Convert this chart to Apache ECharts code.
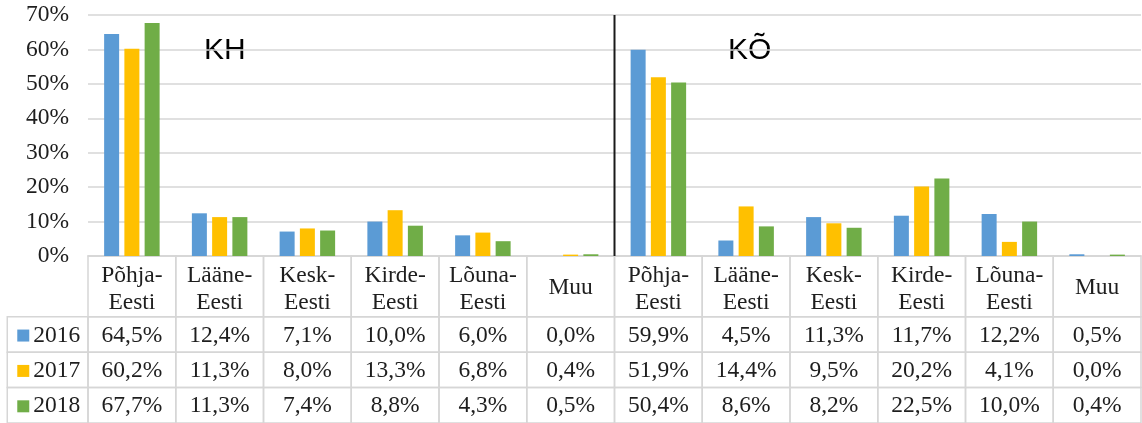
<!DOCTYPE html>
<html>
<head>
<meta charset="utf-8">
<script src="https://cdn.jsdelivr.net/npm/echarts@6/dist/echarts.min.js"></script>
<style>
  html, body { margin: 0; padding: 0; background: #fff; }
  #chart { width: 1142px; height: 423px; }
</style>
</head>
<body>
<div id="chart"></div>
<script>
// regions (x categories), two blocks of six: KH and KÕ
var regions = ["Põhja-\nEesti", "Lääne-\nEesti", "Kesk-\nEesti", "Kirde-\nEesti", "Lõuna-\nEesti", "Muu",
               "Põhja-\nEesti", "Lääne-\nEesti", "Kesk-\nEesti", "Kirde-\nEesti", "Lõuna-\nEesti", "Muu"];
var years = ["2016", "2017", "2018"];
var v2016 = [64.5, 12.4, 7.1, 10.0, 6.0, 0.0, 59.9, 4.5, 11.3, 11.7, 12.2, 0.5];
var v2017 = [60.2, 11.3, 8.0, 13.3, 6.8, 0.4, 51.9, 14.4, 9.5, 20.2, 4.1, 0.0];
var v2018 = [67.7, 11.3, 7.4, 8.8, 4.3, 0.5, 50.4, 8.6, 8.2, 22.5, 10.0, 0.4];
var groupLabels = ["KH", "KÕ"];
var yTicks = [0, 10, 20, 30, 40, 50, 60, 70];

var colors = ["#5B9BD5", "#FFC000", "#70AD47"];
var values = [v2016, v2017, v2018];
var serif = '"Liberation Serif", "Times New Roman", serif';
var gridColor = "#d6d6d6";
var textColor = "#1e1e1e";

// table layout in table-axis units (1 = one data row, 1 = one column)
var HEADER_H = 1.72;
var LEGEND_X = -0.92;

function fmt(v) {
  return v.toFixed(1).replace(".", ",") + "%";
}

// build table cells
var cells = [];
regions.forEach(function (r, i) {
  cells.push({ value: [i, 0, i + 1, HEADER_H], text: r });
});
years.forEach(function (y, j) {
  cells.push({ value: [LEGEND_X, HEADER_H + j, 0, HEADER_H + j + 1], text: y, swatch: colors[j] });
  values[j].forEach(function (v, i) {
    cells.push({ value: [i, HEADER_H + j, i + 1, HEADER_H + j + 1], text: fmt(v) });
  });
});

function renderCell(params, api) {
  var c = cells[params.dataIndex];
  var p0 = api.coord([api.value(0), api.value(1)]);
  var p1 = api.coord([api.value(2), api.value(3)]);
  var children = [{
    type: "rect",
    shape: { x: p0[0], y: p0[1], width: p1[0] - p0[0], height: p1[1] - p0[1] },
    style: { fill: null, stroke: gridColor, lineWidth: 1.5 }
  }];
  var cy = (p0[1] + p1[1]) / 2 + 1;
  if (c.swatch) {
    children.push({
      type: "rect",
      shape: { x: p0[0] + 10, y: cy - 6, width: 12, height: 12 },
      style: { fill: c.swatch }
    });
    children.push({
      type: "text",
      style: { text: c.text, x: p0[0] + 26, y: cy, align: "left", verticalAlign: "middle",
               fontFamily: serif, fontSize: 23.5, fill: textColor }
    });
  } else {
    children.push({
      type: "text",
      style: { text: c.text, x: (p0[0] + p1[0]) / 2, y: cy + (c.text.indexOf("\n") > 0 ? 2 : 0),
               align: "center", verticalAlign: "middle",
               fontFamily: serif, fontSize: 23.5, lineHeight: 27, fill: textColor }
    });
  }
  return { type: "group", children: children };
}

var myChart = echarts.init(document.getElementById("chart"));
var option = {
  animation: false,
  grid: [
    { left: 88, right: 1, top: 15, height: 241 },
    { left: 88, right: 1, top: 256, height: 168 }
  ],
  xAxis: [
    {
      type: "category", gridIndex: 0, data: regions,
      axisLine: { lineStyle: { color: gridColor, width: 1.5 } },
      axisTick: { show: false }, axisLabel: { show: false }
    },
    { type: "value", gridIndex: 0, min: 0, max: regions.length, show: false },
    { type: "value", gridIndex: 1, min: 0, max: regions.length, show: false }
  ],
  yAxis: [
    {
      type: "value", gridIndex: 0, min: yTicks[0], max: yTicks[yTicks.length - 1], interval: 10,
      axisLine: { show: false }, axisTick: { show: false },
      axisLabel: { formatter: "{value}%", fontFamily: serif, fontSize: 23.5, color: textColor, margin: 19 },
      splitLine: { lineStyle: { color: gridColor, width: 1.5 } }
    },
    { type: "value", gridIndex: 1, min: 0, max: HEADER_H + years.length, inverse: true, show: false }
  ],
  graphic: [
    { type: "text", left: 204, top: 36, style: { text: groupLabels[0], font: '30px "Liberation Sans", Arial, sans-serif', fill: "#000" } },
    { type: "text", left: 728, top: 36, style: { text: groupLabels[1], font: '30px "Liberation Sans", Arial, sans-serif', fill: "#000" } }
  ],
  series: years.map(function (y, j) {
    return {
      name: y, type: "bar", xAxisIndex: 0, yAxisIndex: 0,
      data: values[j], barWidth: 15, barGap: "35%",
      itemStyle: { color: colors[j] }
    };
  }).concat([
    {
      // divider between KH and KÕ
      type: "line", xAxisIndex: 1, yAxisIndex: 0, symbol: "none",
      data: [[regions.length / 2, yTicks[0]], [regions.length / 2, yTicks[yTicks.length - 1]]],
      lineStyle: { color: "#1a1a1a", width: 2 }
    },
    {
      type: "custom", xAxisIndex: 2, yAxisIndex: 1,
      renderItem: renderCell,
      data: cells.map(function (c) { return c.value; })
    }
  ])
};
myChart.setOption(option);
</script>
</body>
</html>
